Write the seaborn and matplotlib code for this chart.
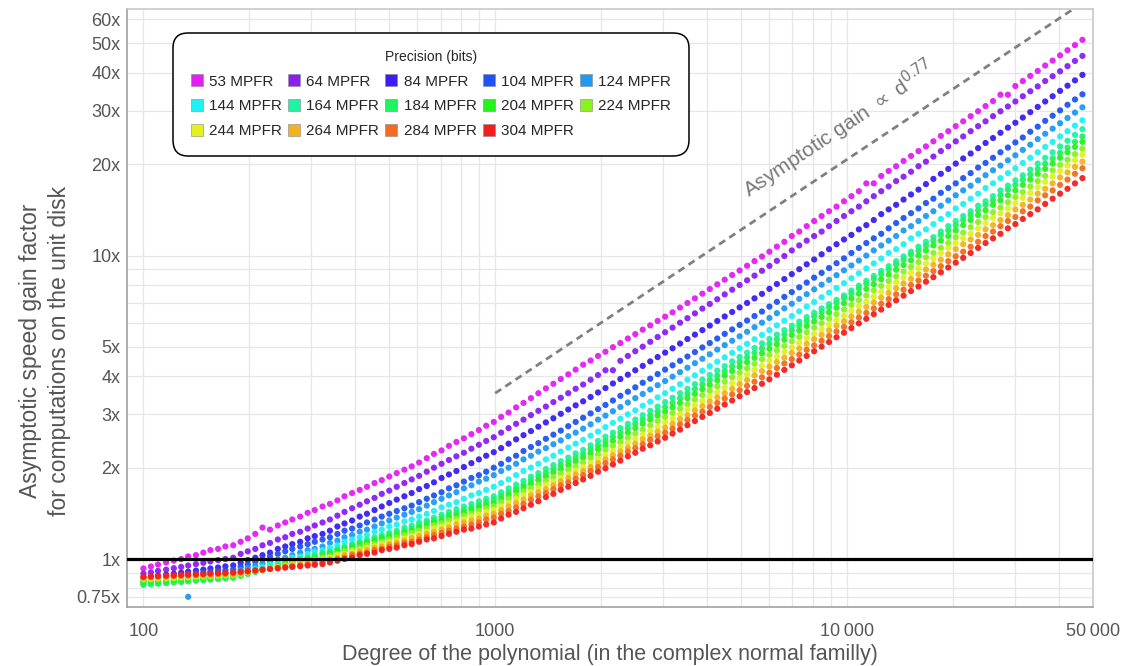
import matplotlib
matplotlib.use("Agg")
import matplotlib.pyplot as plt
import pandas as pd
import seaborn as sns
from matplotlib.lines import Line2D
from matplotlib.ticker import FixedLocator, FixedFormatter, NullFormatter

# degree of the polynomial (x positions of the dots)
degrees = [
    100, 105, 110, 116, 122, 128, 134, 141, 148, 155, 163, 171, 180, 189, 198, 208,
    218, 229, 241, 253, 265, 279, 293, 307, 323, 339, 356, 373, 392, 412, 432, 454,
    476, 500, 525, 552, 579, 608, 639, 670, 704, 739, 776, 815, 856, 899, 943, 991,
    1040, 1092, 1147, 1204, 1264, 1327, 1394, 1464, 1537, 1614, 1694, 1779, 1868, 1961,
    2059, 2162, 2270, 2384, 2503, 2628, 2760, 2898, 3043, 3195, 3355, 3522, 3698, 3883,
    4077, 4281, 4495, 4720, 4956, 5204, 5464, 5737, 6024, 6325, 6642, 6974, 7323, 7689,
    8073, 8477, 8901, 9346, 9813, 10304, 10819, 11360, 11928, 12524, 13150, 13808,
    14498, 15223, 15984, 16783, 17623, 18504, 19429, 20400, 21420, 22491, 23616, 24797,
    26037, 27338, 28705, 30141, 31648, 33230, 34891, 36636, 38468, 40391, 42411, 44531,
    46758,
]

# asymptotic speed gain for each precision
gain_53 = [
    0.931, 0.945, 0.959, 0.974, 0.988, 1.00, 1.02, 1.03, 1.05, 1.07, 1.08, 1.10, 1.11,
    1.14, 1.17, 1.21, 1.27, 1.25, 1.29, 1.32, 1.35, 1.38, 1.42, 1.45, 1.49,
    1.52, 1.56, 1.61, 1.65, 1.69, 1.73, 1.78, 1.82, 1.87, 1.92, 1.97, 2.02,
    2.08, 2.15, 2.22, 2.28, 2.36, 2.43, 2.50, 2.58, 2.66, 2.75, 2.83,
    2.94, 3.04, 3.16, 3.27, 3.39, 3.52, 3.65, 3.78, 3.92, 4.06, 4.21, 4.37,
    4.51, 4.67, 4.82, 4.99, 5.15, 5.33, 5.51, 5.70, 5.89, 6.09, 6.29, 6.50,
    6.74, 6.98, 7.23, 7.49, 7.76, 8.04, 8.33, 8.63, 8.93, 9.26, 9.59, 9.93,
    10.3, 10.7, 11.1, 11.6, 12.0, 12.5, 13.0, 13.5, 14.0, 14.5, 15.1,
    15.7, 16.3, 17.3, 17.3, 18.3, 19.0, 19.7, 20.5, 21.3, 22.1, 22.9, 23.8,
    24.8, 25.7, 26.7, 27.7, 28.8, 29.9, 31.1, 32.3, 33.9, 33.9, 36.2, 37.6,
    39.1, 40.6, 42.3, 43.9, 45.7, 47.5, 49.4, 51.4,
]
gain_64 = [
    0.895, 0.904, 0.914, 0.923, 0.933, 0.942, 0.952, 0.962, 0.972, 0.982, 0.992, 1.00, 1.01,
    1.04, 1.06, 1.08, 1.11, 1.13, 1.16, 1.18, 1.21, 1.23, 1.26, 1.29, 1.32,
    1.35, 1.39, 1.43, 1.47, 1.51, 1.55, 1.59, 1.64, 1.68, 1.73, 1.78, 1.83,
    1.88, 1.94, 2.00, 2.06, 2.12, 2.18, 2.24, 2.31, 2.38, 2.45, 2.52,
    2.61, 2.70, 2.79, 2.88, 2.98, 3.08, 3.18, 3.29, 3.40, 3.52, 3.64, 3.76,
    3.90, 4.04, 4.19, 4.19, 4.50, 4.67, 4.84, 5.01, 5.20, 5.39, 5.59, 5.79,
    6.01, 6.22, 6.45, 6.69, 6.93, 7.18, 7.45, 7.72, 8.00, 8.29, 8.59, 8.91,
    9.25, 9.61, 9.97, 10.4, 10.8, 11.2, 11.6, 12.0, 12.5, 13.0, 13.5,
    14.0, 14.5, 15.1, 15.7, 16.3, 16.9, 17.6, 18.2, 18.9, 19.7, 20.4, 21.2,
    22.1, 22.9, 23.8, 24.7, 25.7, 26.7, 27.7, 28.8, 29.9, 31.0, 32.2, 33.5,
    34.8, 36.1, 37.6, 39.0, 40.5, 42.1, 43.8, 45.5,
]
gain_84 = [
    0.867, 0.874, 0.881, 0.888, 0.895, 0.902, 0.909, 0.916, 0.923, 0.931, 0.938, 0.946, 0.953,
    0.972, 0.992, 1.01, 1.03, 1.05, 1.08, 1.10, 1.12, 1.14, 1.17, 1.19, 1.21,
    1.24, 1.28, 1.31, 1.34, 1.38, 1.41, 1.45, 1.49, 1.53, 1.57, 1.61, 1.65,
    1.70, 1.74, 1.79, 1.85, 1.90, 1.95, 2.01, 2.07, 2.13, 2.19, 2.25,
    2.32, 2.40, 2.48, 2.56, 2.64, 2.73, 2.82, 2.91, 3.01, 3.11, 3.21, 3.31,
    3.42, 3.54, 3.66, 3.79, 3.92, 4.05, 4.19, 4.33, 4.48, 4.63, 4.79, 4.95,
    5.13, 5.31, 5.49, 5.68, 5.88, 6.09, 6.30, 6.52, 6.75, 6.98, 7.23, 7.48,
    7.77, 8.06, 8.37, 8.69, 9.02, 9.36, 9.71, 10.1, 10.5, 10.9, 11.3,
    11.7, 12.2, 12.6, 13.1, 13.7, 14.2, 14.7, 15.3, 15.9, 16.5, 17.2, 17.9,
    18.6, 19.3, 20.1, 20.9, 21.7, 22.6, 23.5, 24.4, 25.4, 26.4, 27.4, 28.5,
    29.7, 30.9, 32.2, 33.5, 34.9, 36.3, 37.8, 39.4,
]
gain_104 = [
    0.859, 0.864, 0.870, 0.875, 0.881, 0.886, 0.892, 0.897, 0.903, 0.908, 0.914, 0.919, 0.925,
    0.943, 0.960, 0.979, 0.997, 1.02, 1.04, 1.06, 1.08, 1.10, 1.12, 1.14, 1.16,
    1.18, 1.21, 1.24, 1.26, 1.29, 1.32, 1.35, 1.38, 1.41, 1.44, 1.47, 1.50,
    1.54, 1.58, 1.62, 1.66, 1.71, 1.75, 1.80, 1.85, 1.89, 1.94, 2.00,
    2.06, 2.13, 2.19, 2.27, 2.34, 2.41, 2.49, 2.57, 2.65, 2.74, 2.83, 2.92,
    3.02, 3.12, 3.22, 3.33, 3.45, 3.56, 3.68, 3.81, 3.93, 4.07, 4.21, 4.35,
    4.50, 4.65, 4.81, 4.98, 5.15, 5.33, 5.52, 5.71, 5.91, 6.11, 6.32, 6.54,
    6.79, 7.04, 7.31, 7.58, 7.86, 8.15, 8.46, 8.77, 9.10, 9.44, 9.79,
    10.2, 10.6, 11.0, 11.4, 11.8, 12.3, 12.8, 13.3, 13.8, 14.3, 14.9, 15.4,
    16.1, 16.7, 17.3, 18.0, 18.7, 19.5, 20.2, 21.0, 21.9, 22.7, 23.6, 24.5,
    25.6, 26.6, 27.8, 28.9, 30.1, 31.4, 32.7, 34.0,
]
gain_124 = [
    0.847, 0.852, 0.856, 0.861, 0.866, 0.870, 0.751, 0.880, 0.885, 0.889, 0.894, 0.899, 0.904,
    0.919, 0.934, 0.950, 0.966, 0.982, 0.998, 1.01, 1.03, 1.05, 1.07, 1.08, 1.10,
    1.13, 1.15, 1.18, 1.20, 1.23, 1.25, 1.28, 1.31, 1.34, 1.37, 1.40, 1.43,
    1.46, 1.50, 1.54, 1.58, 1.62, 1.66, 1.71, 1.75, 1.80, 1.84, 1.89,
    1.95, 2.00, 2.06, 2.13, 2.19, 2.26, 2.32, 2.39, 2.46, 2.54, 2.61, 2.69,
    2.78, 2.88, 2.97, 3.07, 3.17, 3.28, 3.39, 3.50, 3.62, 3.74, 3.86, 3.99,
    4.13, 4.27, 4.42, 4.57, 4.73, 4.90, 5.07, 5.24, 5.42, 5.61, 5.81, 6.01,
    6.23, 6.46, 6.70, 6.94, 7.20, 7.46, 7.74, 8.02, 8.32, 8.62, 8.94,
    9.28, 9.63, 10.0, 10.4, 10.8, 11.2, 11.6, 12.1, 12.5, 13.0, 13.5, 14.0,
    14.6, 15.2, 15.8, 16.4, 17.0, 17.7, 18.4, 19.1, 19.8, 20.6, 21.4, 22.3,
    23.2, 24.2, 25.2, 26.2, 27.3, 28.4, 29.6, 30.8,
]
gain_144 = [
    0.836, 0.840, 0.844, 0.848, 0.852, 0.856, 0.860, 0.864, 0.868, 0.872, 0.876, 0.880, 0.884,
    0.898, 0.912, 0.927, 0.942, 0.958, 0.973, 0.989, 1.01, 1.02, 1.04, 1.06, 1.07,
    1.09, 1.11, 1.14, 1.16, 1.18, 1.20, 1.23, 1.25, 1.28, 1.30, 1.33, 1.35,
    1.38, 1.41, 1.44, 1.48, 1.51, 1.54, 1.58, 1.62, 1.65, 1.69, 1.73,
    1.78, 1.83, 1.89, 1.95, 2.00, 2.06, 2.13, 2.19, 2.26, 2.33, 2.40, 2.47,
    2.55, 2.63, 2.72, 2.81, 2.90, 3.00, 3.09, 3.20, 3.30, 3.41, 3.52, 3.64,
    3.77, 3.90, 4.03, 4.17, 4.32, 4.47, 4.62, 4.78, 4.95, 5.12, 5.30, 5.48,
    5.68, 5.89, 6.10, 6.32, 6.55, 6.79, 7.03, 7.29, 7.55, 7.82, 8.11,
    8.42, 8.74, 9.07, 9.42, 9.78, 10.2, 10.5, 10.9, 11.4, 11.8, 12.2, 12.7,
    13.2, 13.7, 14.3, 14.8, 15.4, 16.0, 16.7, 17.3, 18.0, 18.7, 19.4, 20.2,
    21.0, 21.9, 22.8, 23.7, 24.7, 25.7, 26.8, 27.9,
]
gain_164 = [
    0.826, 0.830, 0.834, 0.837, 0.841, 0.845, 0.849, 0.853, 0.857, 0.861, 0.865, 0.869, 0.873,
    0.886, 0.900, 0.913, 0.927, 0.941, 0.955, 0.970, 0.984, 0.999, 1.01, 1.03, 1.05,
    1.06, 1.08, 1.10, 1.12, 1.14, 1.16, 1.18, 1.20, 1.22, 1.24, 1.27, 1.29,
    1.32, 1.34, 1.37, 1.40, 1.43, 1.46, 1.49, 1.52, 1.55, 1.58, 1.61,
    1.66, 1.71, 1.76, 1.81, 1.87, 1.92, 1.98, 2.04, 2.10, 2.16, 2.23, 2.29,
    2.37, 2.45, 2.53, 2.61, 2.70, 2.79, 2.88, 2.98, 3.08, 3.18, 3.29, 3.40,
    3.52, 3.64, 3.77, 3.90, 4.04, 4.18, 4.32, 4.48, 4.63, 4.79, 4.96, 5.14,
    5.31, 5.49, 5.68, 5.87, 6.06, 6.27, 6.48, 6.70, 6.92, 7.15, 7.39,
    7.67, 7.96, 8.26, 8.57, 8.90, 9.23, 9.58, 9.94, 10.3, 10.7, 11.1, 11.5,
    12.0, 12.5, 13.0, 13.5, 14.0, 14.6, 15.1, 15.7, 16.4, 17.0, 17.7, 18.4,
    19.2, 20.1, 21.0, 21.9, 22.9, 23.9, 25.0, 26.1,
]
gain_184 = [
    0.822, 0.826, 0.829, 0.833, 0.837, 0.840, 0.844, 0.848, 0.851, 0.855, 0.859, 0.863, 0.867,
    0.880, 0.893, 0.906, 0.920, 0.933, 0.947, 0.961, 0.976, 0.990, 1.01, 1.02, 1.04,
    1.05, 1.07, 1.09, 1.11, 1.13, 1.14, 1.16, 1.18, 1.20, 1.22, 1.24, 1.26,
    1.29, 1.32, 1.34, 1.37, 1.40, 1.42, 1.45, 1.48, 1.51, 1.54, 1.57,
    1.62, 1.66, 1.71, 1.76, 1.82, 1.87, 1.92, 1.98, 2.04, 2.10, 2.16, 2.22,
    2.30, 2.37, 2.45, 2.53, 2.61, 2.70, 2.79, 2.88, 2.97, 3.07, 3.17, 3.27,
    3.39, 3.51, 3.63, 3.76, 3.89, 4.02, 4.16, 4.31, 4.46, 4.62, 4.78, 4.94,
    5.12, 5.30, 5.49, 5.68, 5.88, 6.09, 6.30, 6.52, 6.76, 6.99, 7.24,
    7.51, 7.79, 8.08, 8.38, 8.69, 9.01, 9.35, 9.69, 10.1, 10.4, 10.8, 11.2,
    11.7, 12.1, 12.6, 13.1, 13.6, 14.1, 14.7, 15.2, 15.8, 16.5, 17.1, 17.8,
    18.5, 19.3, 20.1, 20.9, 21.8, 22.7, 23.7, 24.7,
]
gain_204 = [
    0.841, 0.844, 0.847, 0.850, 0.853, 0.856, 0.859, 0.862, 0.865, 0.868, 0.871, 0.874, 0.877,
    0.888, 0.900, 0.911, 0.923, 0.935, 0.947, 0.959, 0.972, 0.984, 0.997, 1.01, 1.02,
    1.04, 1.06, 1.07, 1.09, 1.11, 1.13, 1.15, 1.17, 1.18, 1.20, 1.22, 1.24,
    1.27, 1.29, 1.32, 1.34, 1.37, 1.39, 1.42, 1.45, 1.48, 1.50, 1.53,
    1.58, 1.62, 1.67, 1.72, 1.77, 1.82, 1.87, 1.93, 1.98, 2.04, 2.10, 2.16,
    2.23, 2.30, 2.37, 2.45, 2.53, 2.61, 2.70, 2.79, 2.88, 2.97, 3.06, 3.16,
    3.27, 3.39, 3.50, 3.63, 3.75, 3.88, 4.02, 4.16, 4.30, 4.45, 4.60, 4.76,
    4.93, 5.10, 5.28, 5.47, 5.66, 5.86, 6.06, 6.28, 6.50, 6.73, 6.96,
    7.22, 7.49, 7.77, 8.05, 8.35, 8.66, 8.98, 9.31, 9.65, 10.0, 10.4, 10.8,
    11.2, 11.6, 12.1, 12.6, 13.1, 13.6, 14.1, 14.7, 15.2, 15.8, 16.4, 17.1,
    17.8, 18.6, 19.3, 20.1, 21.0, 21.9, 22.8, 23.7,
]
gain_224 = [
    0.855, 0.857, 0.860, 0.862, 0.864, 0.867, 0.869, 0.871, 0.874, 0.876, 0.878, 0.881, 0.883,
    0.893, 0.903, 0.913, 0.923, 0.933, 0.943, 0.954, 0.964, 0.975, 0.986, 0.996, 1.01,
    1.02, 1.04, 1.06, 1.07, 1.09, 1.11, 1.12, 1.14, 1.16, 1.18, 1.20, 1.22,
    1.24, 1.26, 1.29, 1.31, 1.34, 1.36, 1.39, 1.41, 1.44, 1.47, 1.49,
    1.54, 1.58, 1.62, 1.67, 1.71, 1.76, 1.81, 1.86, 1.91, 1.97, 2.02, 2.08,
    2.15, 2.21, 2.29, 2.36, 2.43, 2.51, 2.59, 2.67, 2.76, 2.85, 2.94, 3.03,
    3.13, 3.24, 3.35, 3.47, 3.59, 3.71, 3.84, 3.97, 4.11, 4.25, 4.40, 4.55,
    4.71, 4.87, 5.04, 5.22, 5.40, 5.59, 5.79, 5.99, 6.20, 6.41, 6.64,
    6.88, 7.13, 7.39, 7.67, 7.95, 8.24, 8.54, 8.85, 9.18, 9.52, 9.87, 10.2,
    10.6, 11.0, 11.5, 11.9, 12.4, 12.9, 13.4, 13.9, 14.4, 15.0, 15.6, 16.2,
    16.9, 17.6, 18.3, 19.1, 19.9, 20.7, 21.6, 22.5,
]
gain_244 = [
    0.861, 0.863, 0.866, 0.868, 0.870, 0.873, 0.875, 0.878, 0.880, 0.882, 0.885, 0.887, 0.889,
    0.897, 0.906, 0.914, 0.923, 0.932, 0.940, 0.949, 0.958, 0.967, 0.976, 0.985, 0.995,
    1.01, 1.03, 1.04, 1.06, 1.07, 1.09, 1.10, 1.12, 1.14, 1.15, 1.17, 1.19,
    1.21, 1.23, 1.26, 1.28, 1.30, 1.33, 1.35, 1.38, 1.40, 1.43, 1.45,
    1.49, 1.53, 1.58, 1.62, 1.66, 1.71, 1.76, 1.80, 1.85, 1.90, 1.96, 2.01,
    2.07, 2.14, 2.20, 2.27, 2.34, 2.42, 2.49, 2.57, 2.65, 2.73, 2.82, 2.90,
    3.00, 3.11, 3.21, 3.32, 3.43, 3.55, 3.67, 3.80, 3.93, 4.06, 4.20, 4.34,
    4.50, 4.65, 4.82, 4.98, 5.16, 5.34, 5.52, 5.72, 5.92, 6.12, 6.34,
    6.57, 6.81, 7.06, 7.32, 7.59, 7.87, 8.16, 8.46, 8.77, 9.09, 9.42, 9.77,
    10.2, 10.6, 11.0, 11.4, 11.8, 12.3, 12.8, 13.3, 13.8, 14.3, 14.9, 15.5,
    16.1, 16.8, 17.5, 18.2, 19.0, 19.8, 20.6, 21.5,
]
gain_264 = [
    0.867, 0.869, 0.871, 0.873, 0.876, 0.878, 0.880, 0.882, 0.884, 0.886, 0.889, 0.891, 0.893,
    0.900, 0.908, 0.915, 0.922, 0.930, 0.937, 0.945, 0.953, 0.960, 0.968, 0.976, 0.984,
    0.998, 1.01, 1.03, 1.04, 1.06, 1.07, 1.09, 1.10, 1.12, 1.13, 1.15, 1.17,
    1.19, 1.21, 1.23, 1.25, 1.27, 1.30, 1.32, 1.34, 1.36, 1.39, 1.41,
    1.45, 1.49, 1.53, 1.57, 1.62, 1.66, 1.70, 1.75, 1.80, 1.85, 1.90, 1.95,
    2.01, 2.07, 2.13, 2.20, 2.26, 2.33, 2.40, 2.48, 2.55, 2.63, 2.71, 2.79,
    2.89, 2.98, 3.09, 3.19, 3.30, 3.41, 3.52, 3.64, 3.77, 3.89, 4.03, 4.16,
    4.31, 4.46, 4.61, 4.78, 4.94, 5.12, 5.30, 5.48, 5.67, 5.87, 6.08,
    6.30, 6.53, 6.77, 7.01, 7.27, 7.53, 7.80, 8.09, 8.38, 8.68, 9.00, 9.33,
    9.69, 10.1, 10.5, 10.9, 11.3, 11.7, 12.2, 12.6, 13.1, 13.6, 14.2, 14.7,
    15.3, 16.0, 16.6, 17.3, 18.1, 18.8, 19.6, 20.4,
]
gain_284 = [
    0.871, 0.873, 0.875, 0.877, 0.880, 0.882, 0.884, 0.886, 0.888, 0.891, 0.893, 0.895, 0.897,
    0.903, 0.909, 0.915, 0.921, 0.927, 0.934, 0.940, 0.946, 0.953, 0.959, 0.965, 0.972,
    0.986, 0.999, 1.01, 1.03, 1.04, 1.05, 1.07, 1.08, 1.10, 1.11, 1.13, 1.14,
    1.16, 1.18, 1.20, 1.22, 1.24, 1.26, 1.28, 1.30, 1.32, 1.35, 1.37,
    1.41, 1.44, 1.48, 1.52, 1.57, 1.61, 1.65, 1.70, 1.75, 1.79, 1.84, 1.89,
    1.95, 2.01, 2.07, 2.13, 2.19, 2.26, 2.32, 2.39, 2.47, 2.54, 2.61, 2.69,
    2.78, 2.87, 2.97, 3.06, 3.17, 3.27, 3.38, 3.49, 3.60, 3.72, 3.84, 3.97,
    4.11, 4.26, 4.41, 4.56, 4.72, 4.89, 5.06, 5.24, 5.43, 5.62, 5.82,
    6.03, 6.25, 6.47, 6.70, 6.94, 7.19, 7.45, 7.72, 8.00, 8.28, 8.58, 8.89,
    9.23, 9.59, 9.95, 10.3, 10.7, 11.1, 11.6, 12.0, 12.5, 13.0, 13.4, 14.0,
    14.5, 15.2, 15.8, 16.4, 17.1, 17.8, 18.6, 19.4,
]
gain_304 = [
    0.875, 0.877, 0.880, 0.882, 0.884, 0.887, 0.889, 0.892, 0.894, 0.897, 0.899, 0.901, 0.904,
    0.909, 0.913, 0.918, 0.923, 0.928, 0.932, 0.937, 0.942, 0.947, 0.952, 0.957, 0.962,
    0.974, 0.987, 1.00, 1.01, 1.03, 1.04, 1.05, 1.07, 1.08, 1.09, 1.11, 1.12,
    1.14, 1.16, 1.17, 1.19, 1.21, 1.23, 1.25, 1.26, 1.28, 1.30, 1.32,
    1.36, 1.40, 1.43, 1.47, 1.51, 1.55, 1.60, 1.64, 1.69, 1.73, 1.78, 1.83,
    1.88, 1.94, 1.99, 2.05, 2.11, 2.18, 2.24, 2.31, 2.37, 2.44, 2.51, 2.59,
    2.67, 2.76, 2.85, 2.94, 3.03, 3.13, 3.23, 3.33, 3.44, 3.55, 3.66, 3.78,
    3.91, 4.05, 4.20, 4.35, 4.51, 4.67, 4.84, 5.01, 5.19, 5.38, 5.57,
    5.77, 5.98, 6.19, 6.41, 6.64, 6.88, 7.12, 7.38, 7.64, 7.91, 8.20, 8.49,
    8.81, 9.14, 9.48, 9.83, 10.2, 10.6, 11.0, 11.4, 11.8, 12.3, 12.7, 13.2,
    13.7, 14.2, 14.8, 15.4, 16.0, 16.6, 17.3, 18.0,
]

precisions = [53, 64, 84, 104, 124, 144, 164, 184, 204, 224, 244, 264, 284, 304]
series_gains = [gain_53, gain_64, gain_84, gain_104, gain_124, gain_144, gain_164,
                gain_184, gain_204, gain_224, gain_244, gain_264, gain_284, gain_304]
colors = ["#e11ff2", "#891ff2", "#3b1ff2", "#1f54f2", "#1f9af2", "#1ff2f2", "#1ff2a5",
          "#1ff25f", "#26f21f", "#89f21f", "#e1f21f", "#f2b31f", "#f26d1f", "#f21f1f"]

# dashed guide  ~ d^0.77
asym_degree = [1000, 50000]
asym_gain = [3.52, 71.6]

x_ticks = [100, 1000, 10000, 50000]
x_tick_labels = ["100", "1000", "10\u2009000", "50\u2009000"]
y_ticks = [0.75, 1, 2, 3, 4, 5, 10, 20, 30, 40, 50, 60]
y_tick_labels = ["0.75x", "1x", "2x", "3x", "4x", "5x", "10x", "20x", "30x", "40x", "50x", "60x"]
x_grid = [100, 200, 300, 400, 500, 600, 700, 800, 900,
          1000, 2000, 3000, 4000, 5000, 6000, 7000, 8000, 9000,
          10000, 20000, 30000, 40000, 50000]
y_grid = [0.75, 0.8, 0.9, 1, 2, 3, 4, 5, 6, 7, 8, 9, 10, 20, 30, 40, 50, 60]

sns.set_theme(style="white")
plt.rcParams["font.family"] = ["Liberation Sans", "DejaVu Sans"]

labels = [f"{p} MPFR" for p in precisions]
frames = []
for lab, gains in zip(labels, series_gains):
    frames.append(pd.DataFrame({"degree": degrees, "gain": gains, "precision": lab}))
df = pd.concat(frames, ignore_index=True)

fig = plt.figure(figsize=(11.26, 6.66), dpi=100)
ax = fig.add_axes([0.1131, 0.0886, 0.8573, 0.8974])

sns.scatterplot(data=df, x="degree", y="gain", hue="precision", hue_order=labels,
                palette=dict(zip(labels, colors)), s=20, linewidth=0, alpha=0.95,
                legend=False, ax=ax, zorder=3)

ax.set_xscale("log")
ax.set_yscale("log")
ax.set_xlim(90, 50000)
ax.set_ylim(0.695, 64.8)

ax.xaxis.set_major_locator(FixedLocator(x_ticks))
ax.xaxis.set_major_formatter(FixedFormatter(x_tick_labels))
ax.xaxis.set_minor_locator(FixedLocator(x_grid))
ax.xaxis.set_minor_formatter(NullFormatter())
ax.yaxis.set_major_locator(FixedLocator(y_ticks))
ax.yaxis.set_major_formatter(FixedFormatter(y_tick_labels))
ax.yaxis.set_minor_locator(FixedLocator(y_grid))
ax.yaxis.set_minor_formatter(NullFormatter())

ax.grid(which="both", color="#e6e6e6", linewidth=0.9, zorder=0)
ax.set_axisbelow(True)
ax.tick_params(axis="both", which="minor", length=0)
ax.tick_params(axis="both", which="major", length=3.5, width=0.9, color="#888888",
               labelsize=13, labelcolor="#555555", direction="out")
ax.tick_params(axis="y", which="major", pad=1.5)
ax.tick_params(axis="x", which="major", pad=8)

for side in ["left", "bottom"]:
    ax.spines[side].set_color("#999999")
    ax.spines[side].set_linewidth(1.1)
for side in ["top", "right"]:
    ax.spines[side].set_color("#c4c4c4")
    ax.spines[side].set_linewidth(1.1)

ax.axhline(1, color="black", linewidth=2.3, zorder=4)
ax.plot(asym_degree, asym_gain, color="#808080", linewidth=2,
        linestyle=(0, (2.6, 1.8)), zorder=2)
ax.text(9500, 26.0, r"Asymptotic gain $\propto$ d$^{0.77}$", rotation=33.7,
        rotation_mode="anchor", ha="center", va="center", fontsize=15,
        color="#777777")

ax.set_xlabel("Degree of the polynomial (in the complex normal familly)",
              fontsize=15.5, color="#555555", labelpad=3)
ax.set_ylabel("")
fig.text(45 / 1126, 1 - 351 / 666,
         "Asymptotic speed gain factor\nfor computations on the unit disk",
         rotation=90, ha="center", va="center", multialignment="center",
         fontsize=16.5, color="#555555", linespacing=1.3)

# legend laid out row by row (matplotlib fills columns first)
handles = [Line2D([], [], marker="s", linestyle="", markersize=8.5,
                  markerfacecolor=c, markeredgecolor="#888888", markeredgewidth=0.4,
                  label=lab) for lab, c in zip(labels, colors)]
order = [0, 5, 10, 1, 6, 11, 2, 7, 12, 3, 8, 13, 4, 9]
leg = ax.legend(handles=[handles[i] for i in order], ncol=5, loc="upper left",
                bbox_to_anchor=(0.0395, 0.974), title="Precision (bits)",
                fontsize=11, title_fontsize=10, frameon=True, fancybox=True,
                handlelength=0.8, handletextpad=0.4, columnspacing=0.4,
                borderpad=1.15, labelspacing=0.7, framealpha=1)
frame = leg.get_frame()
frame.set_edgecolor("black")
frame.set_linewidth(1.1)
frame.set_boxstyle("round,pad=0,rounding_size=1.0")
leg.set_zorder(5)

fig.savefig("out.png", dpi=100)
